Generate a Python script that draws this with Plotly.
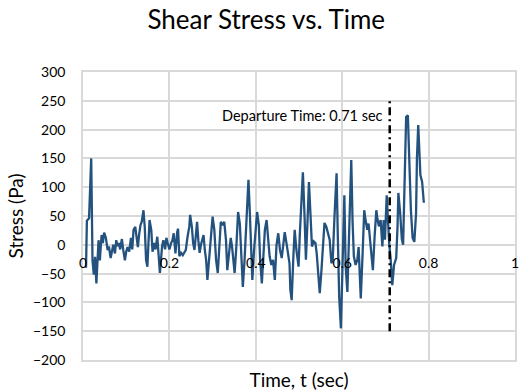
import plotly.graph_objects as go

# Shear stress record (time in seconds, stress in Pa)
time_s = [
    0.007, 0.009, 0.014, 0.019, 0.022, 0.025, 0.028, 0.031, 0.036, 0.039,
    0.043, 0.046, 0.049, 0.053, 0.057, 0.060, 0.064, 0.067, 0.070, 0.074,
    0.077, 0.080, 0.083, 0.086, 0.090, 0.093, 0.097, 0.100, 0.103, 0.107,
    0.111, 0.114, 0.117, 0.121, 0.124, 0.127, 0.130, 0.133, 0.136, 0.140,
    0.143, 0.146, 0.149, 0.154, 0.158, 0.161, 0.165, 0.168, 0.172, 0.175,
    0.178, 0.183, 0.186, 0.190, 0.193, 0.196, 0.200, 0.204, 0.207, 0.210,
    0.214, 0.218, 0.220, 0.223, 0.227, 0.231, 0.235, 0.238, 0.242, 0.246,
    0.248, 0.252, 0.255, 0.258, 0.261, 0.264, 0.267, 0.270, 0.273, 0.276,
    0.279, 0.282, 0.285, 0.288, 0.292, 0.296, 0.300, 0.304, 0.308, 0.312,
    0.316, 0.319, 0.323, 0.327, 0.331, 0.334, 0.338, 0.342, 0.345, 0.348,
    0.351, 0.355, 0.359, 0.363, 0.366, 0.370, 0.374, 0.378, 0.380, 0.383,
    0.386, 0.389, 0.392, 0.396, 0.399, 0.403, 0.407, 0.410, 0.414, 0.418,
    0.421, 0.425, 0.429, 0.432, 0.436, 0.440, 0.444, 0.448, 0.452, 0.456,
    0.460, 0.463, 0.467, 0.471, 0.474, 0.478, 0.480, 0.483, 0.487, 0.490,
    0.494, 0.499, 0.502, 0.505, 0.509, 0.513, 0.516, 0.520, 0.523, 0.527,
    0.530, 0.534, 0.538, 0.541, 0.545, 0.548, 0.552, 0.556, 0.559, 0.563,
    0.567, 0.571, 0.575, 0.578, 0.582, 0.587, 0.590, 0.593, 0.597, 0.600,
    0.605, 0.608, 0.612, 0.616, 0.621, 0.624, 0.627, 0.631, 0.635, 0.638,
    0.643, 0.647, 0.651, 0.654, 0.658, 0.661, 0.665, 0.671, 0.675, 0.679,
    0.682, 0.685, 0.689, 0.693, 0.696, 0.699, 0.703, 0.706, 0.709, 0.712,
    0.716, 0.720, 0.725, 0.728, 0.730, 0.734, 0.738, 0.741, 0.744, 0.748,
    0.752, 0.755, 0.759, 0.763, 0.767, 0.771, 0.773, 0.776, 0.779, 0.781,
    0.785, 0.789,
]
stress_pa = [
    -40, 42, 46, 150, -27, -52, -21, -67, 8, -27,
    17, 3, 21, 12, -9, -3, -23, -9, 0, -15,
    8, -2, 3, -8, 10, -8, -27, -12, -4, -12,
    12, -8, 26, 31, 12, -4, 18, 34, 40, 60,
    30, -26, -38, 43, 26, -12, 3, -8, 14, -26,
    -49, -3, 8, -8, 12, 3, -8, 3, 8, 20,
    -15, 22, 28, -20, -14, -18, -14, -9, 14, 31,
    52, 31, 3, -9, 14, 40, 8, -14, 0, 8,
    17, -9, -26, -61, -20, 20, 49, 26, -26, -49,
    -3, 40, 34, 40, 8, -44, -15, 12, -3, -26,
    -49, -3, 57, 37, -9, -73, -26, 26, 66, 113,
    60, -9, -61, -9, 26, 57, 34, -26, -67, -20,
    26, 43, 14, -20, -35, -26, -61, 0, 20, -9,
    -23, -3, 22, 3, -9, -32, -78, -96, -20, 26,
    -9, -38, 20, 75, 126, 46, -26, 46, 109, 46,
    -3, 6, 3, -15, -61, -84, -44, 3, 38, 32,
    20, 9, -32, -26, 46, 124, 9, -90, -145, -50,
    86, -38, -82, 20, 147, 40, -20, -35, -26, -4,
    -93, -20, 60, 43, 26, 37, 9, -44, 14, 60,
    43, 32, 43, -3, 43, 9, 86, 40, 0, -23,
    -70, -35, -23, 30, 90, 57, 10, 0, 80, 222,
    225, 140, 60, 12, 5, 55, 150, 208, 160, 121,
    109, 73,
]

departure_time = 0.71
departure_label = "Departure Time: 0.71 sec"
x_ticks = [0, 0.2, 0.4, 0.6, 0.8, 1]
x_tick_text = ["0", "0.2", "0.4", "0.6", "0.8", "1"]
y_ticks = [-200, -150, -100, -50, 0, 50, 100, 150, 200, 250, 300]

FONT = "Lato"
GRID = "#d9d9d9"

fig = go.Figure()
# Stress trace lives on the overlaid x-axis whose tick labels sit on the zero line
fig.add_trace(go.Scatter(
    x=time_s, y=stress_pa, mode="lines", xaxis="x2", yaxis="y",
    line=dict(color="#24527f", width=2.3),
    showlegend=False, hoverinfo="skip",
))

# Departure marker line
fig.add_shape(
    type="line", xref="x", yref="y",
    x0=departure_time, x1=departure_time, y0=-150, y1=250,
    line=dict(color="black", width=2.5, dash="8px,4px,2px,4px"),
)
fig.add_annotation(
    x=departure_time, y=224, xref="x", yref="y",
    text=departure_label, showarrow=False,
    xanchor="right", yanchor="middle", xshift=-5,
    font=dict(family=FONT, size=14.5, color="black"),
)

fig.update_layout(
    width=520, height=392,
    margin=dict(l=83, r=1, t=72, b=32),
    paper_bgcolor="white", plot_bgcolor="white",
    font=dict(family=FONT, color="black"),
    title=dict(
        text="Shear Stress vs. Time", x=0.512, xref="container", xanchor="center",
        y=0.95, yref="container", yanchor="middle",
        font=dict(family=FONT, size=26, color="black"),
    ),
    xaxis=dict(
        range=[0, 1], tickvals=x_ticks, showticklabels=False,
        showgrid=True, gridcolor=GRID, gridwidth=1.5, zeroline=False,
        showline=True, mirror=True, linecolor=GRID, linewidth=1.5, ticks="",
        title=dict(text="Time, t (sec)", standoff=13,
                   font=dict(family=FONT, size=19, color="black")),
    ),
    xaxis2=dict(
        overlaying="x", anchor="free", position=0.4, side="bottom",
        range=[0, 1], tickvals=x_ticks, ticktext=x_tick_text,
        showgrid=False, zeroline=False, showline=False, ticks="",
        ticklabelstandoff=8, ticklabeloverflow="allow",
        tickfont=dict(family=FONT, size=14, color="black"),
    ),
    yaxis=dict(
        range=[-200, 300], tickvals=y_ticks,
        showgrid=True, gridcolor=GRID, gridwidth=1.5, zeroline=False,
        showline=True, mirror=True, linecolor=GRID, linewidth=1.5,
        ticks="", ticklabelstandoff=13,
        tickfont=dict(family=FONT, size=14, color="black"),
        title=dict(text="Stress (Pa)", standoff=4,
                   font=dict(family=FONT, size=19, color="black")),
    ),
)

fig.write_html("out.html")
